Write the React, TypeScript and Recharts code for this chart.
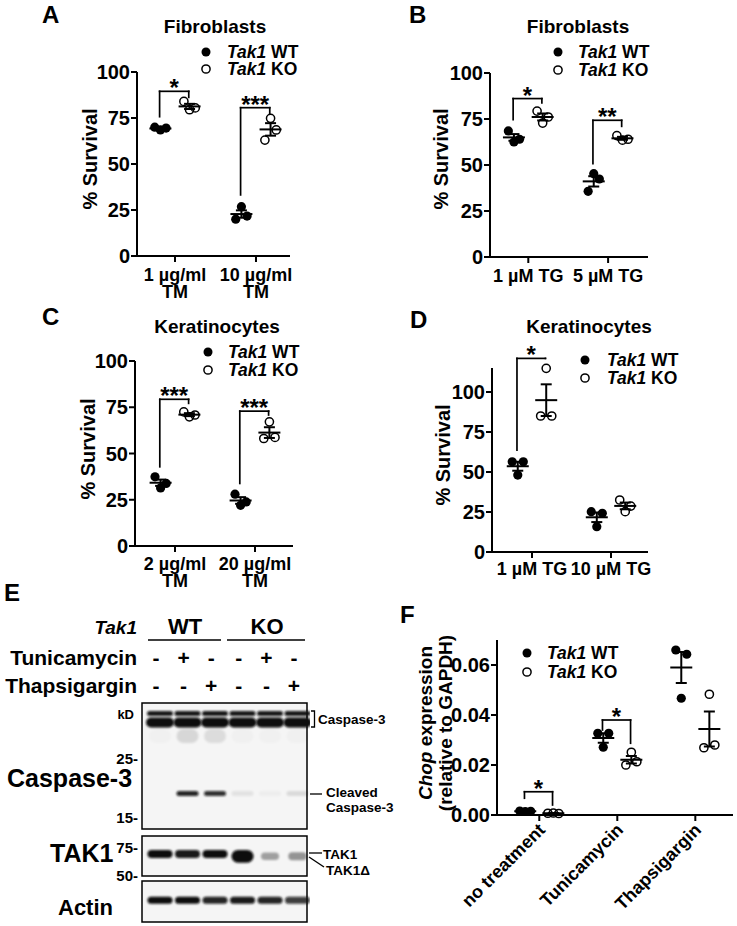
import React from "react";
import {
  ScatterChart,
  Scatter,
  XAxis,
  YAxis,
  ErrorBar,
  ReferenceLine,
  ReferenceArea,
} from "recharts";

const FONT = "'Liberation Sans', Arial, Helvetica, sans-serif";

// A – fibroblasts, tunicamycin
const aLabels = [["1 µg/ml", "TM"], ["10 µg/ml", "TM"]];
const aWT = [[70, 68.5, 69.5], [20, 26.8, 21.7]];
const aKO = [[84, 79.5, 80.5], [63, 74.8, 68.5]];
const aWTMean = [69.3, 22.8];
const aWTSem = [0.5, 2.0];
const aKOMean = [81.3, 68.8];
const aKOSem = [1.4, 3.4];
const aSig = [
  { group: 1, top: 89.5, leftEnd: 75.7, rightEnd: 86.2, mark: "*" },
  { group: 2, top: 80.6, leftEnd: 33.2, rightEnd: 77.5, mark: "***" },
];

// B – fibroblasts, thapsigargin
const bLabels = [["1 µM TG"], ["5 µM TG"]];
const bWT = [[68.5, 62.5, 64], [35.7, 45.3, 42.4]];
const bKO = [[79.3, 72.8, 76.1], [66, 63.5, 64]];
const bWTMean = [65, 41.1];
const bWTSem = [1.8, 2.8];
const bKOMean = [76.1, 64.5];
const bKOSem = [1.9, 0.8];
const bSig = [
  { group: 1, top: 86.1, leftEnd: 74.7, rightEnd: 83.7, mark: "*" },
  { group: 2, top: 74.3, leftEnd: 50.7, rightEnd: 71, mark: "**" },
];

// C – keratinocytes, tunicamycin
const cLabels = [["2 µg/ml", "TM"], ["20 µg/ml", "TM"]];
const cWT = [[37.4, 31.4, 33.8], [28, 22, 23.8]];
const cKO = [[72.5, 69.8, 70.8], [58.1, 67.1, 58.7]];
const cWTMean = [34.2, 24.6];
const cWTSem = [1.7, 1.8];
const cKOMean = [71, 61.3];
const cKOSem = [0.8, 2.9];
const cSig = [
  { group: 1, top: 79.3, leftEnd: 42.8, rightEnd: 77.1, mark: "***" },
  { group: 2, top: 72.9, leftEnd: 33.8, rightEnd: 70.8, mark: "***" },
];

// D – keratinocytes, thapsigargin
const dLabels = [["1 µM TG"], ["10 µM TG"]];
const dWT = [[56.4, 48.1, 56.4], [25.2, 15.8, 24.2]];
const dKO = [[85, 114.8, 85], [32.5, 25.2, 28.7]];
const dWTMean = [53.6, 21.7];
const dWTSem = [2.8, 3.0];
const dKOMean = [94.9, 28.8];
const dKOSem = [9.9, 2.1];
const dSig = [{ group: 1, top: 121, leftEnd: 63.7, rightEnd: 121, mark: "*" }];

// F – Chop expression
const fLabels = ["no treatment", "Tunicamycin", "Thapsigargin"];
const fWT = [[0.0016, 0.0014, 0.0015], [0.0327, 0.0271, 0.0327], [0.066, 0.0467, 0.0643]];
const fKO = [[0.0007, 0.0008, 0.0006], [0.02, 0.0251, 0.0213], [0.0269, 0.0483, 0.028]];
const fWTMean = [0.0015, 0.0308, 0.059];
const fWTSem = [0.0001, 0.0019, 0.0062];
const fKOMean = [0.0007, 0.0221, 0.0344];
const fKOSem = [0.0001, 0.0015, 0.007];
const fSig = [
  { group: 1, top: 0.0093, leftEnd: 0.0067, rightEnd: 0.004, mark: "*" },
  { group: 2, top: 0.038, leftEnd: 0.034, rightEnd: 0.0287, mark: "*" },
];

const survivalTicks = [0, 25, 50, 75, 100];
const chopTicks = [0, 0.02, 0.04, 0.06];

// E – western blot, band intensity per lane (0..1)
const lanes = [1, 2, 3, 4, 5, 6];
const tunicamycin = ["-", "+", "-", "-", "+", "-"];
const thapsigargin = ["-", "-", "+", "-", "-", "+"];
const casp3Upper = [0.95, 0.95, 0.95, 0.95, 0.95, 0.95];
const casp3Main = [1, 1, 1, 1, 1, 1];
const casp3Smear = [0.02, 0.12, 0.1, 0.02, 0.02, 0.02];
const cleavedCasp3 = [0, 0.9, 0.85, 0.08, 0.03, 0.11];
const tak1 = [1, 0.95, 1, 0, 0, 0];
const tak1Delta = [0, 0, 0, 1, 0.35, 0.4];
const actin = [1, 1, 0.9, 0.95, 0.9, 0.8];
const casp3Markers = [25, 15];
const tak1Markers = [75, 50];

type Sig = { group: number; top: number; leftEnd: number; rightEnd: number; mark: string };

const SHIFT = 0.18;
const JITTER = [-0.07, 0, 0.07];

const points = (groups: number[][], side: number) =>
  groups.flatMap((vals, g) => vals.map((v, i) => ({ x: g + 1 + side * SHIFT + JITTER[i], y: v })));
const means = (m: number[], s: number[], side: number) =>
  m.map((v, g) => ({ x: g + 1 + side * SHIFT, y: v, err: s[g] }));

const solidDot = (p: any) => <circle cx={p.cx} cy={p.cy} r={4.6} fill="#000" />;
const hollowDot = (p: any) => (
  <circle cx={p.cx} cy={p.cy} r={4.1} fill="none" stroke="#000" strokeWidth={1.5} />
);
const meanBar = (p: any) => (
  <line x1={p.cx - 11} x2={p.cx + 11} y1={p.cy} y2={p.cy} stroke="#000" strokeWidth={2} />
);

const stackedTick = (labels: string[][], first: number) => (p: any) => {
  const lines = labels[Math.round(p.payload.value) - 1] || [];
  return (
    <text x={p.x} y={p.y} textAnchor="middle" fontFamily={FONT} fontWeight={700} fontSize={18} fill="#000">
      {lines.map((s, i) => (
        <tspan key={i} x={p.x} dy={i === 0 ? first : 17}>
          {s}
        </tspan>
      ))}
    </text>
  );
};

const slantTick = (labels: string[]) => (p: any) => {
  const s = labels[Math.round(p.payload.value) - 1] || "";
  const x = p.x + 7;
  const y = p.y + 8;
  return (
    <text x={x} y={y} textAnchor="end" transform={`rotate(-45, ${x}, ${y})`} fontFamily={FONT} fontWeight={700} fontSize={18} fill="#000">
      {s}
    </text>
  );
};

const survivalTitle = (x: number, y: number) => () => (
  <text x={x} y={y} transform={`rotate(-90, ${x}, ${y})`} textAnchor="middle" fontFamily={FONT} fontWeight={700} fontSize={20} fill="#000">
    % Survival
  </text>
);

const chopTitle = () => (
  <g fontFamily={FONT} fontWeight={700} fontSize={19} fill="#000">
    <text x={62} y={133} transform="rotate(-90, 62, 133)" textAnchor="middle">
      <tspan fontStyle="italic">Chop</tspan> expression
    </text>
    <text x={82} y={133} transform="rotate(-90, 82, 133)" textAnchor="middle">
      (relative to GAPDH)
    </text>
  </g>
);

type PanelCfg = {
  left: number;
  top: number;
  width: number;
  height: number;
  margin: { top: number; right: number; bottom: number; left: number };
  yWidth: number;
  xHeight: number;
  xDomain: [number, number];
  yDomain: [number, number];
  yTicks: number[];
  yFormat?: (v: number) => string;
  wt: number[][];
  ko: number[][];
  wtMean: number[];
  wtSem: number[];
  koMean: number[];
  koSem: number[];
  sig: Sig[];
  tick: (p: any) => React.ReactElement;
  yTitle: () => React.ReactElement;
};

function DotPanel(c: PanelCfg) {
  const ticks = c.wt.map((_, i) => i + 1);
  const line = { stroke: "#000", strokeWidth: 2 };
  const seg = { stroke: "#000", strokeWidth: 1.7, strokeLinecap: "square" as const, ifOverflow: "visible" as const };
  return (
    <div style={{ position: "absolute", left: c.left, top: c.top }}>
      <ScatterChart width={c.width} height={c.height} margin={c.margin}>
        <XAxis
          type="number"
          dataKey="x"
          domain={c.xDomain}
          ticks={ticks}
          interval={0}
          height={c.xHeight}
          tick={c.tick}
          tickSize={6}
          tickMargin={2}
          axisLine={line}
          tickLine={line}
        />
        <YAxis
          type="number"
          dataKey="y"
          domain={c.yDomain}
          ticks={c.yTicks}
          interval={0}
          width={c.yWidth}
          tickFormatter={c.yFormat}
          tick={{ fill: "#000", fontSize: 20, fontWeight: 700, fontFamily: FONT }}
          tickSize={6}
          tickMargin={1}
          axisLine={line}
          tickLine={line}
          label={{ content: c.yTitle }}
        />
        <Scatter data={points(c.wt, -1)} shape={solidDot} isAnimationActive={false} />
        <Scatter data={points(c.ko, 1)} shape={hollowDot} isAnimationActive={false} />
        <Scatter data={means(c.wtMean, c.wtSem, -1)} shape={meanBar} isAnimationActive={false}>
          <ErrorBar dataKey="err" direction="y" width={5.5} stroke="#000" strokeWidth={2} isAnimationActive={false} />
        </Scatter>
        <Scatter data={means(c.koMean, c.koSem, 1)} shape={meanBar} isAnimationActive={false}>
          <ErrorBar dataKey="err" direction="y" width={5.5} stroke="#000" strokeWidth={2} isAnimationActive={false} />
        </Scatter>
        {c.sig.flatMap((s, k) => {
          const x1 = s.group - 0.19;
          const x2 = s.group + 0.17;
          return [
            <ReferenceLine
              key={`h${k}`}
              segment={[{ x: x1, y: s.top }, { x: x2, y: s.top }]}
              {...seg}
              label={{ value: s.mark, position: "top", offset: -5, fill: "#000", fontSize: 24, fontWeight: 700, fontFamily: FONT }}
            />,
            <ReferenceLine key={`l${k}`} segment={[{ x: x1, y: s.leftEnd }, { x: x1, y: s.top }]} {...seg} />,
            <ReferenceLine key={`r${k}`} segment={[{ x: x2, y: s.rightEnd }, { x: x2, y: s.top }]} {...seg} />,
          ];
        })}
      </ScatterChart>
    </div>
  );
}

type Band = { kd: number; values: number[]; w: number; h: number; grow?: boolean };

const bandShape = (b: Band) => (p: any) => {
  const v = p.payload.v;
  if (!v) return <g />;
  const w = b.grow ? b.w * (0.8 + 0.3 * v) : b.w;
  const h = b.grow ? b.h * (0.6 + v) : b.h;
  return (
    <rect
      x={p.cx - w / 2}
      y={p.cy - h / 2}
      width={w}
      height={h}
      rx={h / 2}
      fill="#0c0c0c"
      fillOpacity={v}
      filter="url(#blotBlur)"
    />
  );
};

type BlotCfg = {
  left: number;
  top: number;
  width: number;
  height: number;
  margin: { top: number; right: number; bottom: number; left: number };
  yWidth: number;
  log: boolean;
  yDomain: [number, number];
  markers: number[];
  bands: Band[];
};

const LANE_DOMAIN: [number, number] = [0.345, 6.345];

function Blot(c: BlotCfg) {
  return (
    <div style={{ position: "absolute", left: c.left, top: c.top }}>
      <ScatterChart width={c.width} height={c.height} margin={c.margin}>
        <XAxis type="number" dataKey="lane" domain={LANE_DOMAIN} hide />
        <YAxis
          type="number"
          dataKey="kd"
          scale={c.log ? "log" : "linear"}
          domain={c.yDomain}
          ticks={c.markers}
          interval={0}
          hide={c.markers.length === 0}
          width={c.yWidth}
          tickFormatter={(v: number) => `${v}-`}
          axisLine={false}
          tickLine={false}
          tickSize={0}
          tickMargin={4}
          tick={{ fill: "#000", fontSize: 15, fontWeight: 700, fontFamily: FONT }}
        />
        <ReferenceArea
          x1={LANE_DOMAIN[0]}
          x2={LANE_DOMAIN[1]}
          y1={c.yDomain[0]}
          y2={c.yDomain[1]}
          fill="#f5f5f5"
          fillOpacity={1}
          stroke="#000"
          strokeWidth={1.5}
          ifOverflow="visible"
        />
        {c.bands.map((b, k) => (
          <Scatter
            key={k}
            data={lanes.map((lane, i) => ({ lane, kd: b.kd, v: b.values[i] }))}
            shape={bandShape(b)}
            isAnimationActive={false}
          />
        ))}
      </ScatterChart>
    </div>
  );
}

function Legend2({ mx, y1, y2, tx }: { mx: number; y1: number; y2: number; tx: number }) {
  return (
    <g>
      <circle cx={mx} cy={y1} r={4.5} fill="#000" />
      <circle cx={mx} cy={y2} r={4.1} fill="none" stroke="#000" strokeWidth={1.5} />
      <text x={tx} y={y1 + 6} fontSize={17.5}>
        <tspan fontStyle="italic">Tak1</tspan> WT
      </text>
      <text x={tx} y={y2 + 6} fontSize={17.5}>
        <tspan fontStyle="italic">Tak1</tspan> KO
      </text>
    </g>
  );
}

function Overlay() {
  const signX = (i: number) => 156 + i * 27.6;
  return (
    <svg width={737} height={926} style={{ position: "absolute", left: 0, top: 0, pointerEvents: "none" }}>
      <defs>
        <filter id="blotBlur" x="-40%" y="-80%" width="180%" height="260%">
          <feGaussianBlur stdDeviation="1.1" />
        </filter>
      </defs>
      <g fontFamily={FONT} fontWeight={700} fill="#000">
        <text x={42} y={23} fontSize={24}>A</text>
        <text x={409} y={23} fontSize={24}>B</text>
        <text x={42} y={325} fontSize={24}>C</text>
        <text x={410} y={328} fontSize={24}>D</text>
        <text x={4} y={601} fontSize={24}>E</text>
        <text x={400} y={623} fontSize={24}>F</text>

        <text x={215} y={33} fontSize={19} textAnchor="middle">Fibroblasts</text>
        <text x={578} y={33} fontSize={19} textAnchor="middle">Fibroblasts</text>
        <text x={217} y={333} fontSize={19} textAnchor="middle">Keratinocytes</text>
        <text x={589} y={333} fontSize={19} textAnchor="middle">Keratinocytes</text>

        <Legend2 mx={206} y1={52} y2={69} tx={227} />
        <Legend2 mx={558} y1={52} y2={70} tx={578} />
        <Legend2 mx={208} y1={352} y2={370} tx={228} />
        <Legend2 mx={585} y1={360} y2={378} tx={607} />
        <Legend2 mx={527} y1={653} y2={672} tx={547} />

        <text x={137} y={634} fontSize={19} fontStyle="italic" textAnchor="end">Tak1</text>
        <text x={185} y={634} fontSize={22} textAnchor="middle">WT</text>
        <text x={267} y={634} fontSize={22} textAnchor="middle">KO</text>
        <line x1={148} x2={221} y1={640} y2={640} stroke="#000" strokeWidth={1.5} />
        <line x1={227} x2={305} y1={640} y2={640} stroke="#000" strokeWidth={1.5} />
        <text x={137} y={665} fontSize={21} textAnchor="end">Tunicamycin</text>
        <text x={137} y={693} fontSize={21} textAnchor="end">Thapsigargin</text>
        {tunicamycin.map((s, i) => (
          <text key={`t${i}`} x={signX(i)} y={665} fontSize={21} textAnchor="middle">{s}</text>
        ))}
        {thapsigargin.map((s, i) => (
          <text key={`g${i}`} x={signX(i)} y={693} fontSize={21} textAnchor="middle">{s}</text>
        ))}
        <text x={134} y={719} fontSize={13} textAnchor="end">kD</text>
        <text x={7} y={787} fontSize={25}>Caspase-3</text>
        <text x={50} y={862} fontSize={25}>TAK1</text>
        <text x={58} y={915} fontSize={22}>Actin</text>

        <path d="M311 711 H314.5 V727 H311" fill="none" stroke="#000" strokeWidth={1.3} />
        <text x={318} y={724} fontSize={13.5}>Caspase-3</text>
        <line x1={310} x2={322} y1={794} y2={794} stroke="#000" strokeWidth={1.3} />
        <text x={326} y={797} fontSize={13.5}>Cleaved</text>
        <text x={326} y={812} fontSize={13.5}>Caspase-3</text>
        <line x1={309} x2={322} y1={853} y2={853} stroke="#000" strokeWidth={1.3} />
        <text x={323} y={859} fontSize={13.5}>TAK1</text>
        <line x1={309} y1={857} x2={324} y2={867} stroke="#000" strokeWidth={1.3} />
        <text x={326} y={875} fontSize={13.5}>TAK1Δ</text>
      </g>
    </svg>
  );
}

export default function App() {
  return (
    <div style={{ position: "absolute", left: 0, top: 0, width: 737, height: 926, background: "#fff", overflow: "hidden" }}>
      <DotPanel
        left={0}
        top={0}
        width={300}
        height={312}
        margin={{ top: 72, right: 10, bottom: 0, left: 67 }}
        yWidth={70}
        xHeight={56}
        xDomain={[0.531, 2.42]}
        yDomain={[0, 100]}
        yTicks={survivalTicks}
        wt={aWT}
        ko={aKO}
        wtMean={aWTMean}
        wtSem={aWTSem}
        koMean={aKOMean}
        koSem={aKOSem}
        sig={aSig}
        tick={stackedTick(aLabels, 17)}
        yTitle={survivalTitle(97, 159)}
      />
      <DotPanel
        left={370}
        top={0}
        width={290}
        height={312}
        margin={{ top: 73, right: 12, bottom: 0, left: 50 }}
        yWidth={70}
        xHeight={55}
        xDomain={[0.52, 2.5]}
        yDomain={[0, 100]}
        yTicks={survivalTicks}
        wt={bWT}
        ko={bKO}
        wtMean={bWTMean}
        wtSem={bWTSem}
        koMean={bKOMean}
        koSem={bKOSem}
        sig={bSig}
        tick={stackedTick(bLabels, 17)}
        yTitle={survivalTitle(78, 159)}
      />
      <DotPanel
        left={0}
        top={290}
        width={300}
        height={312}
        margin={{ top: 71, right: 7, bottom: 0, left: 65 }}
        yWidth={70}
        xHeight={56}
        xDomain={[0.5, 2.475]}
        yDomain={[0, 100]}
        yTicks={survivalTicks}
        wt={cWT}
        ko={cKO}
        wtMean={cWTMean}
        wtSem={cWTSem}
        koMean={cKOMean}
        koSem={cKOSem}
        sig={cSig}
        tick={stackedTick(cLabels, 16)}
        yTitle={survivalTitle(95, 159)}
      />
      <DotPanel
        left={370}
        top={290}
        width={290}
        height={312}
        margin={{ top: 78, right: 12, bottom: 0, left: 52 }}
        yWidth={70}
        xHeight={50}
        xDomain={[0.494, 2.468]}
        yDomain={[0, 115]}
        yTicks={survivalTicks}
        wt={dWT}
        ko={dKO}
        wtMean={dWTMean}
        wtSem={dWTSem}
        koMean={dKOMean}
        koSem={dKOSem}
        sig={dSig}
        tick={stackedTick(dLabels, 15)}
        yTitle={survivalTitle(80, 165)}
      />
      <DotPanel
        left={370}
        top={590}
        width={367}
        height={336}
        margin={{ top: 50, right: 4, bottom: 0, left: 47 }}
        yWidth={80}
        xHeight={111}
        xDomain={[0.458, 3.483]}
        yDomain={[0, 0.07]}
        yTicks={chopTicks}
        yFormat={(v: number) => v.toFixed(2)}
        wt={fWT}
        ko={fKO}
        wtMean={fWTMean}
        wtSem={fWTSem}
        koMean={fKOMean}
        koSem={fKOSem}
        sig={fSig}
        tick={slantTick(fLabels)}
        yTitle={chopTitle}
      />
      <Blot
        left={95}
        top={700}
        width={215}
        height={135}
        margin={{ top: 3, right: 3, bottom: 6, left: 0 }}
        yWidth={47}
        log
        yDomain={[13.6, 40.6]}
        markers={casp3Markers}
        bands={[
          { kd: 30.5, values: casp3Smear, w: 22, h: 14 },
          { kd: 37.1, values: casp3Upper, w: 26, h: 5 },
          { kd: 34.3, values: casp3Main, w: 28, h: 10 },
          { kd: 18.5, values: cleavedCasp3, w: 22, h: 5 },
        ]}
      />
      <Blot
        left={95}
        top={830}
        width={215}
        height={60}
        margin={{ top: 6, right: 3, bottom: 14, left: 0 }}
        yWidth={47}
        log
        yDomain={[50, 89.2]}
        markers={tak1Markers}
        bands={[
          { kd: 68.8, values: tak1, w: 25, h: 8 },
          { kd: 66.5, values: tak1Delta, w: 20, h: 8, grow: true },
        ]}
      />
      <Blot
        left={95}
        top={878}
        width={215}
        height={48}
        margin={{ top: 3, right: 3, bottom: 4, left: 47 }}
        yWidth={47}
        log={false}
        yDomain={[35, 50]}
        markers={[]}
        bands={[{ kd: 43, values: actin, w: 25, h: 7 }]}
      />
      <Overlay />
    </div>
  );
}
